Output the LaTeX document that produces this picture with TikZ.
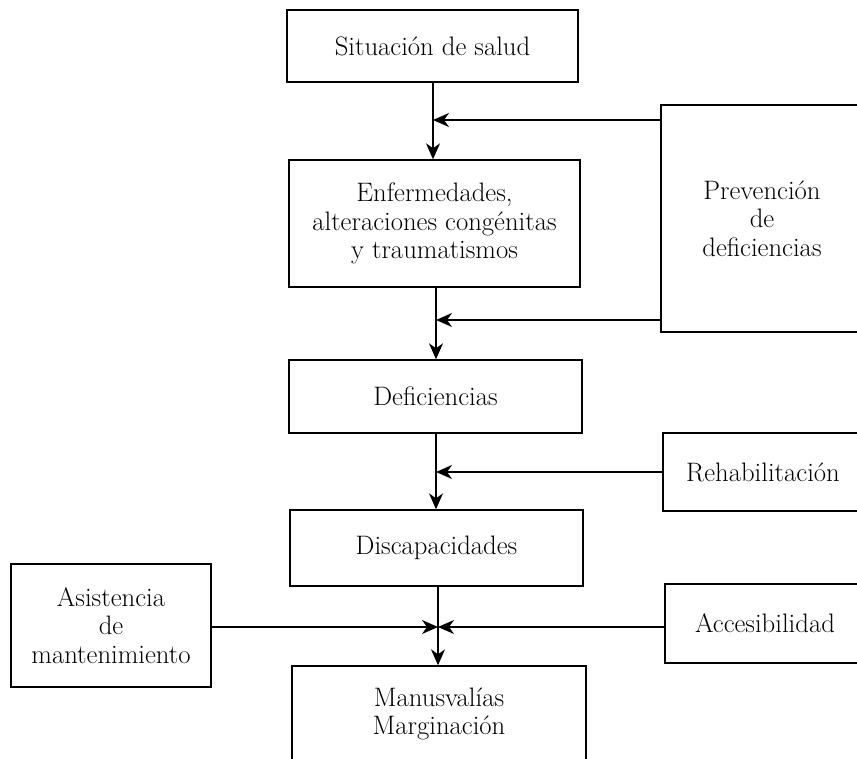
\documentclass[tikz,border=0pt]{standalone}
\usetikzlibrary{arrows.meta}
\begin{document}
\begin{tikzpicture}[x=1pt,y=-1pt,
  box/.style={draw, line width=1.4pt, inner sep=0pt, align=center,
    font=\fontsize{26.7}{28.5}\selectfont},
  conn/.style={line width=1.3pt},
  arr/.style={conn, -{Stealth[length=16pt,width=14pt,inset=5pt]}}]
\useasboundingbox (0,0) rectangle (857,758);
\clip (0,0) rectangle (857,758);
% main column
\node[box, minimum width=291pt, minimum height=72pt] (s1) at (432.5,46) {Situación de salud};
\node[box, minimum width=291pt, minimum height=127pt] (s2) at (434.5,223.5) {Enfermedades,\\alteraciones congénitas\\y traumatismos};
\node[box, minimum width=293pt, minimum height=73pt] (s3) at (435.5,396.5) {Deficiencias};
\node[box, minimum width=293pt, minimum height=76pt] (s4) at (436.5,548) {Discapacidades};
\node[box, minimum width=294pt, minimum height=96pt] (s5) at (439,714) {Manusvalías\\Marginación};
% side boxes
\node[box, minimum width=202pt, minimum height=227pt] (prev) at (762,218.5) {Prevención\\de\\deficiencias};
\node[box, minimum width=200pt, minimum height=78pt] (rehab) at (763,472) {Rehabilitación};
\node[box, minimum width=200pt, minimum height=79pt] (acc) at (765,623.5) {Accesibilidad};
\node[box, minimum width=200pt, minimum height=123pt] (asis) at (111,625.5) {Asistencia\\de\\mantenimiento};
% junction points
\coordinate (j1) at (433,120);
\coordinate (j2) at (436,320);
\coordinate (j3) at (436,472);
\coordinate (j4) at (438,627);
% vertical arrows
\draw[arr] (s1.south -| j1) -- (j1 |- s2.north);
\draw[arr] (s2.south -| j2) -- (j2 |- s3.north);
\draw[arr] (s3.south -| j3) -- (j3 |- s4.north);
\draw[arr] (s4.south -| j4) -- (j4 |- s5.north);
% side arrows
\draw[arr] (prev.west |- j1) -- (j1);
\draw[arr] (prev.west |- j2) -- (j2);
\draw[arr] (rehab.west |- j3) -- (j3);
\draw[arr] (acc.west |- j4) -- (j4);
\draw[arr] (asis.east |- j4) -- (j4);
\end{tikzpicture}
\end{document}
